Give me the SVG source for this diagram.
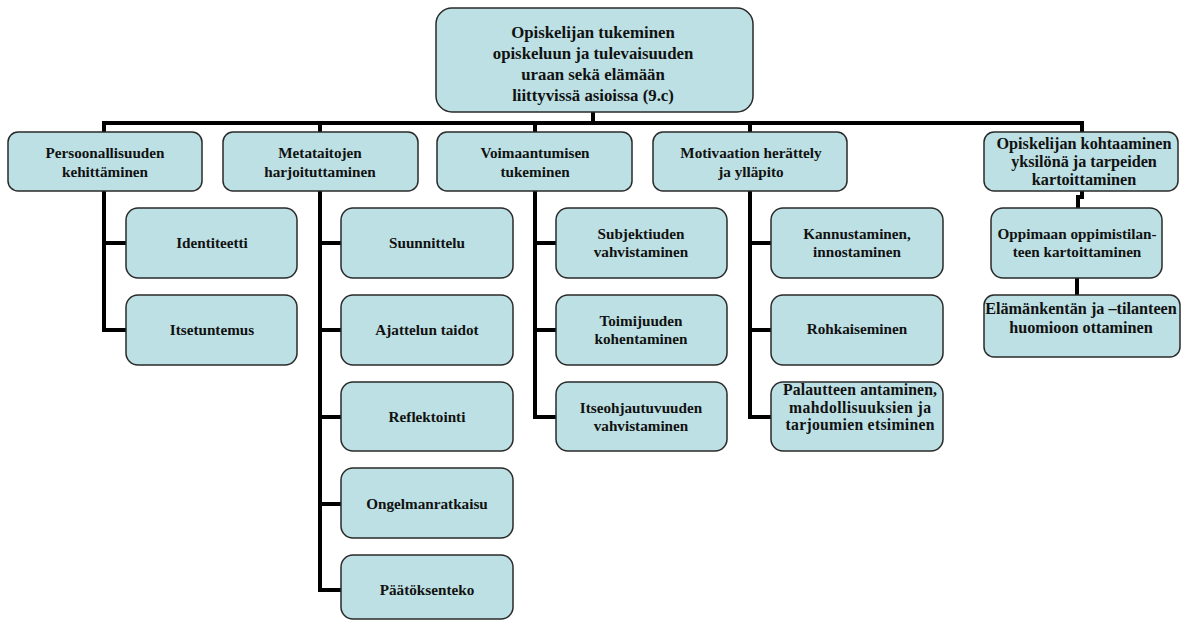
<svg xmlns="http://www.w3.org/2000/svg" width="1186" height="621" viewBox="0 0 1186 621">
  <style>
    .box { fill: #bce0e3; stroke: #2a2a2a; stroke-width: 1.5; }
    .wire { fill: none; stroke: #000; stroke-width: 4; stroke-linejoin: miter; }
    .label { font-family: "Liberation Serif", "Times New Roman", serif; font-weight: bold; font-size: 15.2px; fill: #111; text-anchor: middle; }
    .lg .label { font-size: 16.2px; }
    .md .label { font-size: 15.7px; }
    .root .label { font-size: 16.8px; }
  </style>
  <rect width="1186" height="621" fill="#fff"/>

  <!-- connectors -->
  <g id="connectors" class="wire">
    <path d="M593 112 V123"/>
    <path d="M104 132 V123 H1082 V132"/>
    <path d="M320 123 V132"/>
    <path d="M535 123 V132"/>
    <path d="M750 123 V132"/>
    <!-- Persoonallisuuden branch -->
    <path d="M104 191 V330 H126"/>
    <path d="M104 243 H126"/>
    <!-- Metataitojen branch -->
    <path d="M320 191 V590 H341"/>
    <path d="M320 243 H341"/>
    <path d="M320 330 H341"/>
    <path d="M320 417 H341"/>
    <path d="M320 504 H341"/>
    <!-- Voimaantumisen branch -->
    <path d="M535 191 V417 H556"/>
    <path d="M535 243 H556"/>
    <path d="M535 330 H556"/>
    <!-- Motivaation branch -->
    <path d="M750 191 V417 H771"/>
    <path d="M750 243 H771"/>
    <path d="M750 330 H771"/>
    <!-- Opiskelijan kohtaaminen chain -->
    <path d="M1082 191 V197 H1078 V208"/>
    <path d="M1077 278 V295"/>
  </g>

  <!-- root -->
  <g id="root" class="root">
    <rect class="box" x="436" y="8" width="317" height="104" rx="16"/>
    <text class="label" x="593" y="38">Opiskelijan tukeminen</text>
    <text class="label" x="593" y="59">opiskeluun ja tulevaisuuden</text>
    <text class="label" x="593" y="80">uraan sekä elämään</text>
    <text class="label" x="593" y="101">liittyvissä asioissa (9.c)</text>
  </g>

  <!-- level 1 -->
  <g id="persoonallisuus">
    <rect class="box" x="8" y="132" width="194" height="59" rx="10"/>
    <text class="label" x="105" y="158">Persoonallisuuden</text>
    <text class="label" x="105" y="177">kehittäminen</text>
  </g>
  <g id="metataidot">
    <rect class="box" x="223" y="132" width="195" height="59" rx="10"/>
    <text class="label" x="320" y="158">Metataitojen</text>
    <text class="label" x="320" y="177">harjoituttaminen</text>
  </g>
  <g id="voimaantuminen">
    <rect class="box" x="437" y="132" width="195" height="59" rx="10"/>
    <text class="label" x="535" y="158">Voimaantumisen</text>
    <text class="label" x="535" y="177">tukeminen</text>
  </g>
  <g id="motivaatio">
    <rect class="box" x="653" y="132" width="194" height="59" rx="10"/>
    <text class="label" x="751" y="158">Motivaation herättely</text>
    <text class="label" x="751" y="177">ja ylläpito</text>
  </g>
  <g id="kohtaaminen" class="lg">
    <rect class="box" x="984" y="132" width="194" height="59" rx="10"/>
    <text class="label" x="1084" y="149">Opiskelijan kohtaaminen</text>
    <text class="label" x="1084" y="167">yksilönä ja tarpeiden</text>
    <text class="label" x="1084" y="185">kartoittaminen</text>
  </g>

  <!-- Persoonallisuuden children -->
  <g id="identiteetti">
    <rect class="box" x="126" y="208" width="171" height="70" rx="12"/>
    <text class="label" x="212" y="248">Identiteetti</text>
  </g>
  <g id="itsetuntemus">
    <rect class="box" x="126" y="295" width="171" height="70" rx="12"/>
    <text class="label" x="212" y="335">Itsetuntemus</text>
  </g>

  <!-- Metataitojen children -->
  <g id="suunnittelu">
    <rect class="box" x="341" y="208" width="172" height="70" rx="12"/>
    <text class="label" x="427" y="248">Suunnittelu</text>
  </g>
  <g id="ajattelu">
    <rect class="box" x="341" y="295" width="172" height="70" rx="12"/>
    <text class="label" x="427" y="335">Ajattelun taidot</text>
  </g>
  <g id="reflektointi">
    <rect class="box" x="341" y="382" width="172" height="69" rx="12"/>
    <text class="label" x="427" y="422">Reflektointi</text>
  </g>
  <g id="ongelmanratkaisu">
    <rect class="box" x="341" y="468" width="172" height="70" rx="12"/>
    <text class="label" x="427" y="509">Ongelmanratkaisu</text>
  </g>
  <g id="paatoksenteko">
    <rect class="box" x="341" y="555" width="172" height="64" rx="12"/>
    <text class="label" x="427" y="595">Päätöksenteko</text>
  </g>

  <!-- Voimaantumisen children -->
  <g id="subjektius">
    <rect class="box" x="556" y="208" width="171" height="70" rx="12"/>
    <text class="label" x="641" y="239">Subjektiuden</text>
    <text class="label" x="641" y="257">vahvistaminen</text>
  </g>
  <g id="toimijuus">
    <rect class="box" x="556" y="295" width="171" height="70" rx="12"/>
    <text class="label" x="641" y="326">Toimijuuden</text>
    <text class="label" x="641" y="344">kohentaminen</text>
  </g>
  <g id="itseohjautuvuus">
    <rect class="box" x="556" y="382" width="171" height="69" rx="12"/>
    <text class="label" x="641" y="413">Itseohjautuvuuden</text>
    <text class="label" x="641" y="431">vahvistaminen</text>
  </g>

  <!-- Motivaation children -->
  <g id="kannustaminen">
    <rect class="box" x="771" y="208" width="172" height="70" rx="12"/>
    <text class="label" x="857" y="239">Kannustaminen,</text>
    <text class="label" x="857" y="257">innostaminen</text>
  </g>
  <g id="rohkaiseminen">
    <rect class="box" x="771" y="295" width="172" height="70" rx="12"/>
    <text class="label" x="857" y="334">Rohkaiseminen</text>
  </g>
  <g id="palaute" class="md">
    <rect class="box" x="771" y="382" width="172" height="69" rx="12"/>
    <text class="label" x="860" y="395" textLength="154" lengthAdjust="spacing">Palautteen antaminen,</text>
    <text class="label" x="860" y="413" textLength="142" lengthAdjust="spacing">mahdollisuuksien ja</text>
    <text class="label" x="860" y="430" textLength="149" lengthAdjust="spacing">tarjoumien etsiminen</text>
  </g>

  <!-- Opiskelijan kohtaaminen children -->
  <g id="oppimistilanne">
    <rect class="box" x="991" y="208" width="171" height="70" rx="12"/>
    <text class="label" x="1077" y="239">Oppimaan oppimistilan-</text>
    <text class="label" x="1077" y="257">teen kartoittaminen</text>
  </g>
  <g id="elamankentta" class="lg">
    <rect class="box" x="984" y="295" width="196" height="62" rx="10"/>
    <text class="label" x="1081" y="314">Elämänkentän ja –tilanteen</text>
    <text class="label" x="1081" y="333">huomioon ottaminen</text>
  </g>
</svg>
